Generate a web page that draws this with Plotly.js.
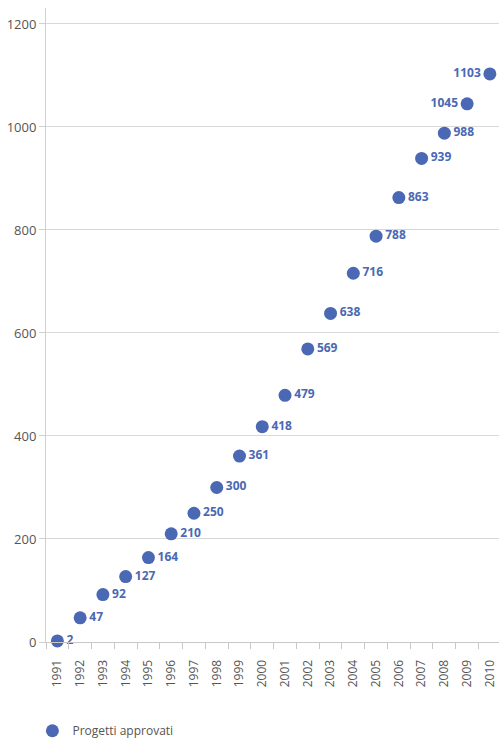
<!DOCTYPE html>
<html>
<head>
<meta charset="utf-8">
<script src="https://cdn.plot.ly/plotly-3.0.1.min.js"></script>
<style>html,body{margin:0;padding:0;background:#fff;}#chart{width:499px;height:739px;}</style>
</head>
<body>
<div id="chart"></div>
<script>
const years = ['1991','1992','1993','1994','1995','1996','1997','1998','1999','2000','2001','2002','2003','2004','2005','2006','2007','2008','2009','2010'];
const progetti = [2, 47, 92, 127, 164, 210, 250, 300, 361, 418, 479, 569, 638, 716, 788, 863, 939, 988, 1045, 1103];
const yTicks = [0, 200, 400, 600, 800, 1000, 1200];
const seriesName = 'Progetti approvati';

const labelPos = progetti.map((v, i) => i >= years.length - 2 ? 'middle left' : 'middle right');
const labelText = progetti.map(v => '<b>' + v + '</b>');

const blue = '#4a68b4';

const trace = {
  type: 'scatter',
  mode: 'markers+text',
  x: years,
  y: progetti,
  name: seriesName,
  text: labelText,
  textposition: labelPos,
  textfont: {family: 'Open Sans, sans-serif', size: 12, color: blue},
  marker: {size: 13, color: blue},
  cliponaxis: false,
  hoverinfo: 'x+y'
};

const layout = {
  width: 499,
  height: 739,
  margin: {l: 46, r: 0, t: 8, b: 97, autoexpand: false},
  paper_bgcolor: '#fff',
  plot_bgcolor: '#fff',
  font: {family: 'Open Sans, sans-serif', color: '#555'},
  showlegend: true,
  legend: {
    orientation: 'h',
    x: -0.03, xanchor: 'left',
    y: -0.14, yanchor: 'middle',
    font: {size: 12, color: '#555'},
    itemwidth: 30
  },
  xaxis: {
    type: 'category',
    range: [-0.5, 19.4],
    automargin: false,
    tickson: 'boundaries',
    ticks: 'outside',
    ticklen: 6,
    tickcolor: '#c8c8c8',
    tickangle: -90,
    ticklabelstandoff: 12,
    tickfont: {size: 12, color: '#555'},
    showgrid: false,
    showline: true,
    linecolor: '#c8c8c8',
    linewidth: 1,
    zeroline: false,
    fixedrange: true
  },
  yaxis: {
    range: [0, 1231],
    automargin: false,
    tickvals: yTicks,
    ticktext: yTicks.map(String),
    ticks: 'outside',
    ticklen: 6,
    tickcolor: '#d0d0d0',
    tickfont: {size: 13, color: '#555'},
    showgrid: true,
    gridcolor: '#d8d8d8',
    gridwidth: 1,
    showline: true,
    linecolor: '#d0d0d0',
    zeroline: false,
    fixedrange: true
  }
};

Plotly.newPlot('chart', [trace], layout, {displayModeBar: false, staticPlot: true});
</script>
</body>
</html>
